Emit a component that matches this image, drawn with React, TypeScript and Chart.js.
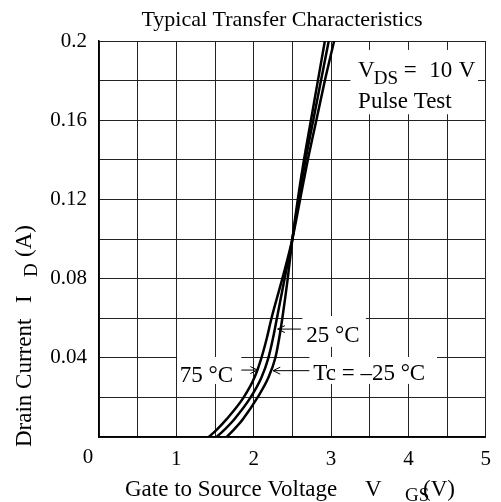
import React, { useEffect, useRef } from 'react';
import { Chart, registerables } from 'chart.js';

Chart.register(...registerables);

// ---- data ----
const TITLE = 'Typical Transfer Characteristics';
const X_TITLE = 'Gate to Source Voltage';
const Y_TITLE = 'Drain Current';
const X_MIN = 0;
const X_MAX = 5;
const Y_MIN = 0;
const Y_MAX = 0.2;
const X_LABELS = [1, 2, 3, 4, 5];
const Y_LABELS = [0.04, 0.08, 0.12, 0.16, 0.2];

const ID_LEVELS = [0, 0.004, 0.009, 0.02, 0.03, 0.04, 0.05, 0.06, 0.08, 0.1, 0.12, 0.14, 0.16, 0.18, 0.2];
const VGS_75C = [1.42, 1.53, 1.65, 1.87, 2.01, 2.1, 2.17, 2.23, 2.37, 2.5, 2.6, 2.7, 2.81, 2.92, 3.04];
const VGS_25C = [1.52, 1.63, 1.75, 1.96, 2.1, 2.19, 2.25, 2.3, 2.4, 2.5, 2.58, 2.67, 2.77, 2.87, 2.97];
const VGS_M25C = [1.65, 1.75, 1.86, 2.05, 2.19, 2.28, 2.33, 2.37, 2.44, 2.5, 2.57, 2.65, 2.74, 2.83, 2.92];

const SERIES = [
  { label: '75 °C', vgs: VGS_75C },
  { label: '25 °C', vgs: VGS_25C },
  { label: 'Tc = –25 °C', vgs: VGS_M25C },
];

// ---- styling / annotation layout (data coordinates) ----
const FONT = "'Liberation Serif', 'Times New Roman', serif";
const BOXES = [
  // [x0, x1, y0, y1]
  [3.25, 4.9, 0.163, 0.1955],
  [2.63, 3.45, 0.0455, 0.0611],
  [1.01, 1.84, 0.0268, 0.0404],
  [2.72, 4.37, 0.0268, 0.0404],
];

function arrow(ctx: CanvasRenderingContext2D, x0: number, y0: number, x1: number, y1: number) {
  const ang = Math.atan2(y1 - y0, x1 - x0);
  const h = 8;
  ctx.beginPath();
  ctx.moveTo(x0, y0);
  ctx.lineTo(x1, y1);
  ctx.moveTo(x1 - h * Math.cos(ang - 0.45), y1 - h * Math.sin(ang - 0.45));
  ctx.lineTo(x1, y1);
  ctx.lineTo(x1 - h * Math.cos(ang + 0.45), y1 - h * Math.sin(ang + 0.45));
  ctx.stroke();
}

const textPlugin = {
  id: 'texts',
  beforeDatasetsDraw(chart: any) {
    const { ctx, scales } = chart;
    const xs = scales.x;
    const ys = scales.y;
    ctx.save();
    ctx.fillStyle = '#fff';
    for (const b of BOXES) {
      const x0 = xs.getPixelForValue(b[0]);
      const x1 = xs.getPixelForValue(b[1]);
      const y0 = ys.getPixelForValue(b[3]);
      const y1 = ys.getPixelForValue(b[2]);
      ctx.fillRect(x0, y0, x1 - x0, y1 - y0);
    }
    ctx.restore();
  },
  afterDatasetsDraw(chart: any) {
    const { ctx, scales } = chart;
    const xs = scales.x;
    const ys = scales.y;
    const px = (v: number) => xs.getPixelForValue(v);
    const py = (v: number) => ys.getPixelForValue(v);
    ctx.save();
    ctx.fillStyle = '#000';
    ctx.strokeStyle = '#000';
    ctx.lineWidth = 1;
    ctx.textBaseline = 'alphabetic';
    ctx.textAlign = 'left';
    const main = `23px ${FONT}`;
    const sub = `19px ${FONT}`;

    // V_DS = 10 V
    const y = py(0.1818);
    ctx.font = main;
    ctx.fillText('V', px(3.35), y);
    ctx.font = sub;
    ctx.fillText('DS', px(3.35) + ctx.measureText('V').width + 2, y + 7);
    ctx.font = main;
    ctx.fillText('=', px(3.94), y);
    ctx.fillText('10', px(4.27), y);
    ctx.fillText('V', px(4.65), y);
    ctx.fillText('Pulse Test', px(3.35), py(0.1662));

    // temperature labels
    ctx.fillText('25 °C', px(2.68), py(0.048));
    ctx.fillText('75 °C', px(1.045), py(0.0278));
    ctx.fillText('Tc = –25 °C', px(2.77), py(0.0288));

    arrow(ctx, px(2.61), py(0.0545), px(2.31), py(0.0545));
    arrow(ctx, px(1.84), py(0.0338), px(2.05), py(0.0338));
    arrow(ctx, px(2.72), py(0.0335), px(2.25), py(0.0335));
    ctx.restore();
  },
  afterDraw(chart: any) {
    const { ctx, chartArea } = chart;
    ctx.save();
    ctx.fillStyle = '#000';
    const main = `23px ${FONT}`;
    const sub = `19px ${FONT}`;
    ctx.font = `22px ${FONT}`;
    ctx.textAlign = 'center';
    ctx.textBaseline = 'alphabetic';
    ctx.fillText(TITLE, 282, 26);

    // origin "0"
    ctx.font = `21px ${FONT}`;
    ctx.textBaseline = 'top';
    ctx.fillText('0', chartArea.left - 11, chartArea.bottom + 10);

    // x title
    ctx.textAlign = 'left';
    ctx.textBaseline = 'alphabetic';
    ctx.font = main;
    ctx.fillText(X_TITLE, 125, 496);
    ctx.fillText('V', 365, 496);
    ctx.font = sub;
    ctx.fillText('GS', 405, 501);
    ctx.font = main;
    ctx.fillText('(V)', 423, 496);

    // y title (rotated)
    ctx.translate(31, 447);
    ctx.rotate(-Math.PI / 2);
    ctx.fillText(Y_TITLE, 0, 0);
    ctx.fillText('I', 144, 0);
    ctx.font = sub;
    ctx.fillText('D', 170, 6);
    ctx.font = main;
    ctx.fillText('(A)', 190, 0);
    ctx.restore();
  },
};

export default function App() {
  const ref = useRef<HTMLCanvasElement>(null);
  useEffect(() => {
    if (!ref.current) return;
    const tickFont = { family: FONT, size: 21 };
    const chart = new Chart(ref.current, {
      type: 'scatter',
      data: {
        datasets: SERIES.map((s) => ({
          label: s.label,
          data: s.vgs.map((v, i) => ({ x: v, y: ID_LEVELS[i] })),
          showLine: true,
          borderColor: '#000',
          backgroundColor: '#000',
          borderWidth: 2.5,
          pointRadius: 0,
          fill: false,
          cubicInterpolationMode: 'monotone' as const,
        })),
      },
      options: {
        animation: false,
        responsive: false,
        maintainAspectRatio: false,
        devicePixelRatio: 1,
        layout: { padding: { left: 0, right: 5, top: 41, bottom: 0 } },
        plugins: {
          legend: { display: false },
          tooltip: { enabled: false },
          title: { display: false },
        },
        scales: {
          x: {
            type: 'linear',
            min: X_MIN,
            max: X_MAX,
            ticks: {
              stepSize: 0.5,
              autoSkip: false,
              maxRotation: 0,
              color: '#000',
              font: tickFont,
              padding: 10,
              callback: (v: any) => {
                const n = Number(v);
                return X_LABELS.some((l) => Math.abs(l - n) < 1e-6) ? String(Math.round(n)) : '';
              },
            },
            grid: { color: '#222', lineWidth: 1, drawTicks: false },
            border: { display: true, color: '#000', width: 1.5 },
            afterFit: (s: any) => {
              s.height = 65;
            },
          },
          y: {
            type: 'linear',
            min: Y_MIN,
            max: Y_MAX,
            ticks: {
              stepSize: 0.02,
              autoSkip: false,
              color: '#000',
              font: tickFont,
              padding: 12,
              callback: (v: any) => {
                const n = Number(v);
                const hit = Y_LABELS.find((l) => Math.abs(l - n) < 1e-6);
                return hit !== undefined ? String(hit) : '';
              },
            },
            grid: { color: '#222', lineWidth: 1, drawTicks: false },
            border: { display: true, color: '#000', width: 1.5 },
            afterFit: (s: any) => {
              s.width = 99;
            },
          },
        },
      },
      plugins: [textPlugin],
    } as any);
    return () => chart.destroy();
  }, []);
  return (
    <div style={{ position: 'fixed', left: 0, top: 0, width: 501, height: 502, background: '#fff' }}>
      <canvas ref={ref} width={501} height={502} style={{ display: 'block', width: 501, height: 502 }} />
    </div>
  );
}
